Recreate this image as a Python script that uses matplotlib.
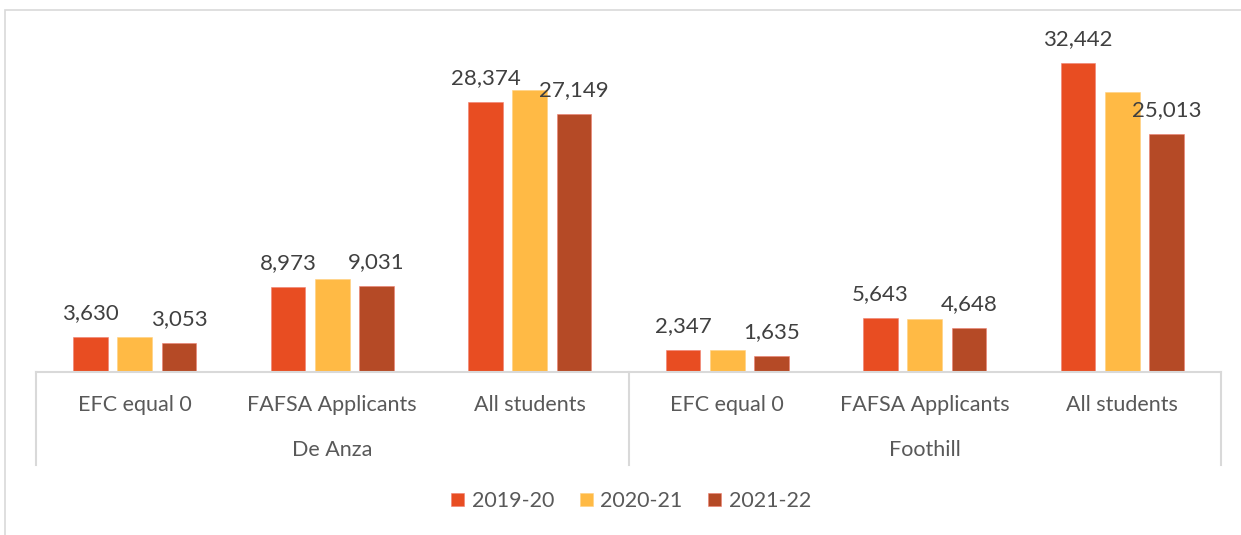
import matplotlib.pyplot as plt
import matplotlib.patches as patches
import matplotlib.transforms as mtransforms
import numpy as np

plt.rcParams['font.family'] = ['Lato', 'DejaVu Sans']

colleges = ['De Anza', 'Foothill']
groups = ['EFC equal 0', 'FAFSA Applicants', 'All students']
years = ['2019-20', '2020-21', '2021-22']

# values per year, order: De Anza (3 groups), then Foothill (3 groups)
y2019 = [3630, 8973, 28374, 2347, 5643, 32442]
y2020 = [3700, 9780, 29640, 2300, 5580, 29390]
y2021 = [3053, 9031, 27149, 1635, 4648, 25013]
show_label = [True, False, True]

colors = ['#E84D22', '#FFBA45', '#B54A26']
W, H = 1241, 535

fig = plt.figure(figsize=(W / 100, H / 100), dpi=100)
ax = fig.add_axes([36 / W, 1 - 372 / H, (1221 - 36) / W, (372 - 39) / H])

# outer chart border
fig.add_artist(patches.Rectangle((5 / W, -0.1), 1.2, 1.1 - 10 / H, transform=fig.transFigure,
                                 fill=False, edgecolor='#D9D9D9', linewidth=1.2))

x = np.arange(6)
bw = 0.177
step = 0.224
series = [y2019, y2020, y2021]
for i, (vals, c, yr) in enumerate(zip(series, colors, years)):
    pos = x + (i - 1) * step
    ax.bar(pos, vals, bw, color=c, label=yr, edgecolor='#F08070' if i != 1 else '#FFD080', linewidth=0.4)
    if show_label[i]:
        for p, v in zip(pos, vals):
            ax.annotate(f'{v:,}', (p, v), xytext=(0, 10), textcoords='offset points',
                        ha='center', va='bottom', fontsize=16, color='#404040')

ax.set_xlim(-0.5, 5.5)
ax.set_ylim(0, 35000)
ax.set_yticks([])
ax.set_xticks([])
for s in ['left', 'right', 'top']:
    ax.spines[s].set_visible(False)
ax.spines['bottom'].set_color('#D9D9D9')
ax.spines['bottom'].set_linewidth(1.5)

trans = mtransforms.blended_transform_factory(ax.transData, ax.transAxes)
for xb in [-0.5, 2.5, 5.5]:
    ax.plot([xb, xb], [0, -93 / 333], transform=trans, color='#D9D9D9', lw=1.5, clip_on=False)

labels = groups * 2
for xi, lab in zip(x, labels):
    ax.text(xi, -33 / 333, lab, transform=trans, ha='center', va='center', fontsize=15.5, color='#595959')
for gi, col in enumerate(colleges):
    ax.text(gi * 3 + 1, -78 / 333, col, transform=trans, ha='center', va='center', fontsize=15.5, color='#595959')

leg = fig.legend(loc='center', bbox_to_anchor=(631 / W, 1 - 501 / H), ncol=3, frameon=False,
                 fontsize=15.5, handlelength=0.6, handleheight=0.6, handletextpad=0.35, columnspacing=1.2)
for t in leg.get_texts():
    t.set_color('#595959')

fig.savefig('out.png', dpi=100)
